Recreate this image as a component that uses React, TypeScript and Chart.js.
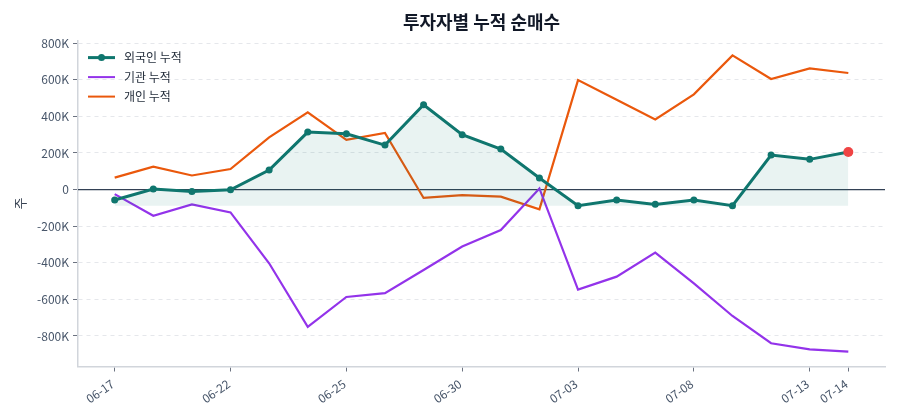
import React, { useEffect, useRef } from "react";
import { Chart, registerables } from "chart.js";
Chart.register(...registerables);

const dates = ["06-17","06-18","06-19","06-22","06-23","06-24","06-25","06-26","06-29","06-30","07-01","07-02","07-03","07-06","07-07","07-08","07-09","07-10","07-13","07-14"];
const foreign = [-57000,3000,-10000,-1000,107000,314000,305000,243000,463000,300000,221000,63000,-88000,-57000,-81000,-57000,-88000,189000,165000,205000];
const institution = [-25000,-143000,-81000,-125000,-403000,-750000,-587000,-566000,-440000,-311000,-221000,6000,-547000,-476000,-345000,-513000,-691000,-840000,-873000,-886000];
const individual = [65000,125000,77000,112000,285000,422000,272000,309000,-46000,-30000,-39000,-108000,598000,491000,383000,520000,733000,604000,662000,637000];
const shownXTicks = [0,3,6,9,12,15,18,19];
const yTickValues = [-800000,-600000,-400000,-200000,0,200000,400000,600000,800000];
const seriesNames = ["외국인 누적","기관 누적","개인 누적"];

const TEAL = "#0f766e";
const PURPLE = "#9333ea";
const ORANGE = "#ea580c";
const RED = "#ef4444";
const FONT = "'Noto Sans CJK KR', 'Noto Sans', sans-serif";

const toXY = (arr: number[]) => arr.map((y, i) => ({ x: i, y }));

const zeroLinePlugin = {
  id: "zeroLine",
  beforeDatasetsDraw(chart: any) {
    const { ctx, chartArea, scales } = chart;
    const y = scales.y.getPixelForValue(0);
    ctx.save();
    ctx.strokeStyle = "#334155";
    ctx.lineWidth = 1.3;
    ctx.beginPath();
    ctx.moveTo(chartArea.left, y);
    ctx.lineTo(chartArea.right, y);
    ctx.stroke();
    ctx.restore();
  },
};

const legendPlugin = {
  id: "innerLegend",
  afterDraw(chart: any) {
    const { ctx, chartArea } = chart;
    const colors = [TEAL, PURPLE, ORANGE];
    const widths = [3, 2, 2];
    const x0 = chartArea.left + 10;
    const y0 = chartArea.top + 17;
    ctx.save();
    ctx.font = `12px ${FONT}`;
    ctx.textBaseline = "middle";
    seriesNames.forEach((name, i) => {
      const y = y0 + i * 19.5;
      ctx.strokeStyle = colors[i];
      ctx.lineWidth = widths[i];
      ctx.beginPath();
      ctx.moveTo(x0, y);
      ctx.lineTo(x0 + 27, y);
      ctx.stroke();
      if (i === 0) {
        ctx.fillStyle = colors[i];
        ctx.beginPath();
        ctx.arc(x0 + 13.5, y, 3.5, 0, Math.PI * 2);
        ctx.fill();
      }
      ctx.fillStyle = "#1f2937";
      ctx.fillText(name, x0 + 36, y);
    });
    ctx.restore();
  },
};

export default function App() {
  const ref = useRef<HTMLCanvasElement | null>(null);
  useEffect(() => {
    document.body.style.margin = "0";
    if (!ref.current) return;
    Chart.defaults.font.family = FONT;
    const last = foreign.length - 1;
    const fillBase = Math.min(...foreign);
    const chart = new Chart(ref.current, {
      type: "line",
      data: {
        datasets: [
          {
            label: seriesNames[0],
            data: toXY(foreign),
            borderColor: TEAL,
            borderWidth: 3,
            backgroundColor: "rgba(15,118,110,0.09)",
            fill: { value: fillBase },
            pointRadius: (c: any) => (c.dataIndex === last ? 5 : 3.5),
            pointBackgroundColor: (c: any) => (c.dataIndex === last ? RED : TEAL),
            pointBorderWidth: 0,
            tension: 0,
          },
          {
            label: seriesNames[1],
            data: toXY(institution),
            borderColor: PURPLE,
            borderWidth: 2.2,
            pointRadius: 0,
            fill: false,
            tension: 0,
          },
          {
            label: seriesNames[2],
            data: toXY(individual),
            borderColor: ORANGE,
            borderWidth: 2.2,
            pointRadius: 0,
            fill: false,
            tension: 0,
          },
        ],
      },
      options: {
        animation: false,
        responsive: true,
        maintainAspectRatio: false,
        layout: { padding: { left: 0, right: 15, top: 0, bottom: 0 } },
        plugins: {
          legend: { display: false },
          tooltip: { enabled: false },
          title: {
            display: true,
            text: "투자자별 누적 순매수",
            fullSize: false,
            color: "#111827",
            font: { size: 18, weight: "bold", family: FONT },
            padding: { top: 11, bottom: 8 },
          },
        },
        scales: {
          x: {
            type: "linear",
            min: -0.95,
            max: 19.95,
            afterBuildTicks: (scale: any) => {
              scale.ticks = shownXTicks.map((v) => ({ value: v }));
            },
            afterFit: (scale: any) => {
              scale.height = 53.5;
            },
            ticks: {
              autoSkip: false,
              minRotation: 35,
              maxRotation: 35,
              color: "#475569",
              font: { size: 12 },
              padding: 5,
              labelOffset: -2,
              callback: (v: any) => dates[v as number] ?? "",
            },
            grid: {
              drawOnChartArea: false,
              drawTicks: true,
              tickLength: 5,
              tickColor: "#6b7280",
              tickWidth: 1,
            },
            border: { display: true, color: "#d1d5db", width: 1.5 },
          },
          y: {
            min: -967000,
            max: 814000,
            afterBuildTicks: (scale: any) => {
              scale.ticks = yTickValues.map((v) => ({ value: v }));
            },
            afterFit: (scale: any) => {
              scale.width = 78;
            },
            ticks: {
              color: "#475569",
              font: { size: 12 },
              padding: 4,
              callback: (v: any) => (v === 0 ? "0" : `${Math.round((v as number) / 1000)}K`),
            },
            title: {
              display: true,
              text: "주",
              color: "#374151",
              font: { size: 13 },
              padding: { top: 12, bottom: 0 },
            },
            grid: {
              color: "#e5e7eb",
              lineWidth: 1,
              drawTicks: true,
              tickLength: 5,
              tickColor: "#6b7280",
              tickBorderDash: [],
            },
            border: { display: true, color: "#d1d5db", width: 1.5, dash: [4, 4] },
          },
        },
      },
      plugins: [zeroLinePlugin, legendPlugin],
    } as any);
    return () => chart.destroy();
  }, []);
  return (
    <div style={{ width: 900, height: 420, position: "relative" }}>
      <canvas ref={ref} />
    </div>
  );
}
